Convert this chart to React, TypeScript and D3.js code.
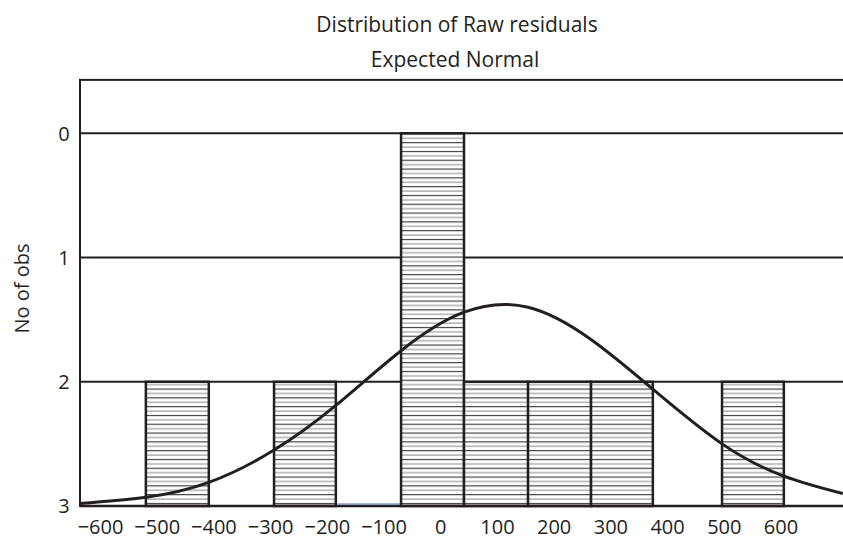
import { useEffect, useRef } from "react";
import * as d3 from "d3";

// histogram of raw residuals (bin edges)
const binEdges = [-520, -409, -294, -185, -70, 41, 154, 265, 374, 496, 605];
const binCounts = [1, 0, 1, 0, 3, 1, 1, 1, 0, 1];
const blueBin = [-185, -70];

// expected normal curve
const curveX = [-637, -520, -409, -294, -185, -70, 41, 154, 265, 374, 496, 605, 709];
const curveY = [0.02, 0.07, 0.19, 0.45, 0.81, 1.25, 1.56, 1.6, 1.34, 0.94, 0.5, 0.24, 0.1];

const xTicks = [-600, -500, -400, -300, -200, -100, 0, 100, 200, 300, 400, 500, 600];
const yTicks = [0, 1, 2, 3];

const title = "Distribution of Raw residuals";
const subtitle = "Expected Normal";
const yLabel = "No of obs";

export default function App() {
  const ref = useRef<SVGSVGElement>(null);

  useEffect(() => {
    const W = 843;
    const ink = "#231f20";
    const font = "'Open Sans', sans-serif";
    const svg = d3.select(ref.current);
    svg.selectAll("*").remove();

    const x = d3.scaleLinear().domain([-600, 600]).range([100.5, 781]);
    const y = d3.scaleLinear().domain([0, 3]).range([133.3, 506]);
    const left = 80, right = W + 4;
    const top = y(-0.43), bottom = y(3);

    const defs = svg.append("defs");
    const pat = defs.append("pattern")
      .attr("id", "hatch")
      .attr("patternUnits", "userSpaceOnUse")
      .attr("width", 10).attr("height", 8.8)
      .attr("y", y(0));
    pat.append("rect").attr("width", 10).attr("height", 8.8).attr("fill", "#fff");
    pat.append("line").attr("x1", 0).attr("x2", 10).attr("y1", 0.6).attr("y2", 0.6)
      .attr("stroke", "#333").attr("stroke-width", 1.1);
    pat.append("line").attr("x1", 0).attr("x2", 10).attr("y1", 5).attr("y2", 5)
      .attr("stroke", "#9a9a9a").attr("stroke-width", 1.2);

    // titles
    svg.append("text").attr("x", 457).attr("y", 32).attr("text-anchor", "middle")
      .style("font-family", font).style("font-size", "21px").attr("fill", ink).text(title);
    svg.append("text").attr("x", 455).attr("y", 67).attr("text-anchor", "middle")
      .style("font-family", font).style("font-size", "21px").attr("fill", ink).text(subtitle);

    // frame
    svg.append("rect").attr("x", left).attr("y", top)
      .attr("width", right - left).attr("height", bottom - top)
      .attr("fill", "#fff").attr("stroke", ink).attr("stroke-width", 2);

    // gridlines
    svg.append("g").selectAll("line")
      .data(yTicks.slice(0, 3))
      .enter().append("line")
      .attr("x1", left).attr("x2", right)
      .attr("y1", d => y(d)).attr("y2", d => y(d))
      .attr("stroke", ink).attr("stroke-width", 2);

    // bars
    const bins = binCounts.map((c, i) => ({ lo: binEdges[i], hi: binEdges[i + 1], c }));
    svg.append("g").selectAll("rect")
      .data(bins.filter(b => b.c > 0))
      .enter().append("rect")
      .attr("x", d => x(d.lo))
      .attr("width", d => x(d.hi) - x(d.lo))
      .attr("y", d => y(3 - d.c))
      .attr("height", d => y(3) - y(3 - d.c))
      .attr("fill", "url(#hatch)")
      .attr("stroke", ink).attr("stroke-width", 2.5);

    // normal curve
    const pts: [number, number][] = curveX.map((v, i) => [v, curveY[i]]);
    const line = d3.line<[number, number]>()
      .x(d => x(d[0])).y(d => y(3 - d[1]))
      .curve(d3.curveNatural);
    svg.append("path").attr("d", line(pts) as string)
      .attr("fill", "none").attr("stroke", ink).attr("stroke-width", 3);

    // bottom frame line again on top
    svg.append("line").attr("x1", left).attr("x2", right).attr("y1", bottom).attr("y2", bottom)
      .attr("stroke", ink).attr("stroke-width", 2.5);

    svg.append("line")
      .attr("x1", x(blueBin[0]) + 2).attr("x2", x(blueBin[1]) - 1)
      .attr("y1", y(3) - 2).attr("y2", y(3) - 2)
      .attr("stroke", "#4a6fc0").attr("stroke-width", 1.2);

    // y tick labels
    svg.append("g").selectAll("text")
      .data(yTicks)
      .enter().append("text")
      .attr("x", 64).attr("y", d => y(d)).attr("dy", "0.36em")
      .attr("text-anchor", "middle")
      .style("font-family", font).style("font-size", "20px").attr("fill", ink)
      .text(d => String(d));

    // x tick labels
    svg.append("g").selectAll("text")
      .data(xTicks)
      .enter().append("text")
      .attr("x", d => x(d)).attr("y", 534)
      .attr("text-anchor", "middle")
      .style("font-family", font).style("font-size", "20px").attr("fill", ink)
      .text(d => (d < 0 ? "\u2212" + Math.abs(d) : String(d)));

    svg.append("text")
      .attr("transform", `translate(28.5,${y(1.25)}) rotate(-90)`)
      .attr("text-anchor", "middle")
      .style("font-family", font).style("font-size", "20px").attr("fill", ink)
      .text(yLabel);
  }, []);

  return (
    <svg ref={ref} width={843} height={540}
      style={{ position: "absolute", left: 0, top: 0, background: "#fff" }} />
  );
}
